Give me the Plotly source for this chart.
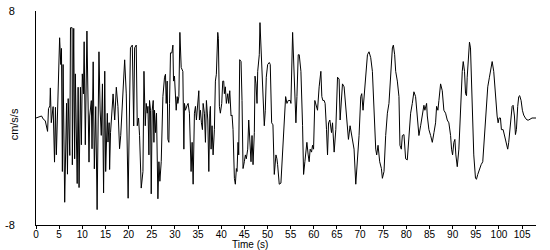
import plotly.graph_objects as go

# Acceleration record (time in s, acceleration in cm/s/s)
seg_early = [
    (0, 0), (1.2, 0.15), (1.6, -0.1), (2.0, -0.2), (2.5, -1.0), (2.7, 0.7), (3.0, 0.9), (3.1, 2.25),
    (3.3, -0.35), (3.7, 0.85), (4.0, -3.3), (4.2, 0.8), (4.4, -2.75), (4.8, 2.0), (5.1, 6.0),
    (5.35, 4.0), (5.5, 5.2), (5.7, -4.0), (5.85, 4.0), (6.2, -6.3), (6.6, 1.1), (6.8, -4.2),
    (6.95, 1.45), (7.3, -2.8), (7.45, 6.75), (7.8, 6.75), (7.85, -3.5), (8.15, 6.7), (8.35, -3.05),
    (8.5, 3.3), (8.9, -4.9), (9.1, 2.3), (9.3, -5.2), (9.6, 2.3), (9.8, -2.0), (10.0, 3.3),
    (10.25, 1.8), (10.4, 5.7), (10.65, -2.0), (11.0, 6.5), (11.25, 0.15), (11.45, -3.3),
    (11.6, 0.15), (11.95, 1.3), (12.1, -2.3), (12.35, 4.2), (12.6, -3.8), (12.9, 0.85),
    (13.2, -6.85), (13.4, 2.9), (13.6, 4.95), (13.85, 0.6), (14.1, -1.3), (14.35, 2.55),
    (14.6, -5.6), (14.85, 3.5), (15.05, -4.0), (15.4, 0.35), (15.55, -1.8), (15.8, -0.35),
    (15.9, -3.85), (16.1, -1.1), (16.65, 1.8), (17.0, -0.15), (17.35, 2.3), (17.7, 0.85),
    (18.05, -2.3), (18.3, -1.3), (18.8, 2.3), (19.15, 4.35), (19.5, 1.8), (19.9, -6.0),
    (20.4, 5.25), (20.8, 5.45), (21.1, -0.6), (21.3, 5.25), (21.65, 5.45),
]

seg_mid1 = [
    (21.87, -0.58), (22.15, 0), (22.37, -1.31), (22.73, -5.24), (23.1, -4.0), (23.32, 3.49),
    (23.6, -0.58), (23.81, 1.09), (24.03, 0.36), (24.18, 0.87), (24.39, -2.76), (24.52, 1.31),
    (24.74, 0.58), (24.89, -5.67), (25.1, 0.58), (25.32, 1.31), (25.47, -1.82), (25.6, 0.58),
    (25.82, -1.09), (26.03, 0.36), (26.33, -6.04), (26.55, -3.27), (26.76, -4.73), (27.05, -3.27),
    (27.41, 1.6), (27.76, 3.05), (27.97, 3.27), (28.12, 1.09), (28.34, 2.76), (28.49, -1.6),
    (28.7, -1.82), (28.84, 1.09), (29.05, 4.87), (29.35, 4.87), (29.57, 5.45), (29.7, 2.76),
    (29.91, 3.13), (30.28, 0.58), (30.49, 1.6), (30.64, 1.09), (30.86, 1.6), (31.08, 6.4),
    (31.36, 3.78), (31.72, 3.49), (31.94, -2.33), (32.07, 1.09), (32.28, 0.58), (32.65, 0.95),
    (32.86, 1.09), (33.14, 0.36), (33.36, -3.05), (33.5, -4.0), (33.72, -1.82), (33.94, -4.95),
    (34.22, 0.36), (34.44, 0.87), (34.65, -0.15), (34.95, 0.87), (35.17, 2.04), (35.3, -0.15),
    (35.52, 0.58), (35.73, -0.36), (35.95, -0.87), (36.1, 1.09), (36.38, 0.36), (36.6, -1.82),
    (36.81, 1.31), (37.11, -0.15), (37.33, -4.0), (37.54, 0.36), (37.67, 0.87), (37.82, -2.33),
    (38.03, -0.58), (38.25, -2.76), (38.53, -0.87), (38.75, 2.76), (38.96, 3.27), (39.26, 6.4),
    (39.39, 5.96), (39.61, 0.87), (39.82, 0.36), (40.12, 1.09), (40.34, 2.76), (40.55, 2.76),
    (40.69, 1.82), (40.9, 2.33), (41.12, 1.09), (41.42, 1.82), (41.63, 1.09), (41.85, 2.04),
    (42.13, 0.15), (42.35, 0.22), (42.56, -0.87), (42.85, -4.51), (43.06, -4.95), (43.28, -3.78),
    (43.42, -4.0), (43.64, -1.82), (43.79, -2.76), (44.0, 4.36), (44.29, 4.22), (44.5, 1.31),
    (44.72, -3.78), (45.0, -3.27), (45.22, -2.76), (45.43, -3.05), (45.73, -2.33), (45.95, -0.15),
    (46.16, -1.31), (46.44, -3.27), (46.66, -1.31), (46.88, -3.49), (47.16, -1.09), (47.31, 3.13),
    (47.52, 2.55), (47.74, 1.09), (47.89, 3.49), (48.23, 4.73), (48.38, 7.13), (48.6, 5.24),
    (48.81, 4.0), (49.18, -0.36), (49.31, -0.58), (49.53, 0.58), (49.74, 3.05), (50.04, 4.0),
    (50.39, 4.15),
]

seg_mid2 = [
    (50.6, 4.0), (50.9, -0.36), (51.18, -0.51), (51.47, -4.22), (51.83, -2.76), (52.04, -3.05),
    (52.19, -3.49), (52.54, -4.95), (52.9, -4.87), (53.27, -2.55), (53.62, -0.58), (53.92, 1.6),
    (54.2, 1.09), (54.49, 1.31), (54.92, 1.31), (55.06, 1.09), (55.43, 6.4), (55.78, 3.49),
    (55.99, 0.58), (56.14, -0.36), (56.36, 1.6), (56.64, 4.73), (56.86, 4.73), (57.22, 3.49),
    (57.58, -0.58), (57.8, -4.22), (58.08, -3.27), (58.29, -2.33), (58.51, -1.82), (58.79, -2.76),
    (59.0, -3.27), (59.22, -2.33), (59.52, -2.55), (59.73, -2.04), (59.95, -2.33), (60.23, 1.31),
    (60.45, 1.09), (60.81, 0.58), (61.16, 2.33), (61.53, 3.49), (61.74, 1.6), (61.96, 1.31),
    (62.24, 1.31), (62.45, 1.09), (62.75, -0.87), (62.97, -2.76), (63.19, -0.36), (63.47, -0.15),
    (63.83, -1.09), (64.05, -0.36), (64.4, -2.55), (64.76, -0.87), (65.13, 3.05), (65.47, 2.91),
    (65.69, -0.15), (65.84, 0.58), (66.2, 2.55), (66.55, 2.33), (66.91, 0.87), (67.28, -1.09),
    (67.49, -1.6), (67.84, -0.58), (68.14, -1.31), (68.36, -1.6), (68.7, -2.33), (69.07, -4.95),
    (69.43, -3.27), (69.78, -1.31), (70.15, 1.6), (70.36, 1.82), (70.64, 0.58), (71.0, 2.33),
    (71.59, 4.73), (71.93, 4.95), (72.3, 4.51), (72.66, 3.49), (73.01, 0.15), (73.38, -2.33),
    (73.59, -2.76), (73.88, -2.04), (74.24, -3.27), (74.61, -3.78), (74.82, -4.51), (75.17, -4.0),
    (75.53, -1.31), (75.9, 0.36), (76.24, 1.09), (76.61, 3.49), (76.98, 5.24), (77.19, 5.45),
    (77.47, 4.73), (77.69, 3.49), (78.05, 2.76), (78.4, 1.6),
]

seg_late = [
    (78.61, -2.04), (78.91, -2.33), (79.13, -1.31), (79.48, -1.24), (79.84, -3.05), (80.2, -3.13),
    (80.55, -1.09), (80.92, 0.36), (81.28, 1.09), (81.63, 1.96), (81.99, 1.6), (82.36, 0.15),
    (82.71, -1.31), (83.08, -0.58), (83.44, 0.36), (83.79, 0.95), (84.0, 0.58), (84.37, 1.09),
    (84.52, 0.15), (84.87, -0.87), (85.24, -1.31), (85.6, -1.82), (85.96, -1.09), (86.31, -0.36),
    (86.53, 0.87), (86.81, 0.58), (87.03, 1.31), (87.39, 2.55), (87.75, 2.04), (88.1, 0.58),
    (88.47, 0.36), (88.83, -0.15), (89.18, -0.36), (89.55, -1.31), (89.76, -2.33), (89.98, -2.76),
    (90.26, -1.82), (90.48, -1.6), (90.69, -2.76), (90.99, -3.64), (91.34, -2.33), (91.7, 1.09),
    (92.07, 3.49), (92.28, 4.22), (92.56, 3.49), (92.78, 1.82), (92.99, 1.67), (93.14, 3.05),
    (93.36, 4.73), (93.63, 5.67), (93.85, 5.24), (94.21, 1.6), (94.56, -2.76), (94.93, -4.51),
    (95.14, -4.58), (95.42, -4.22), (95.78, -3.78), (96.15, -3.49), (96.5, -3.27), (96.87, -1.31),
    (97.23, 0.36), (97.58, 2.33), (97.94, 3.05), (98.31, 3.85), (98.53, 4.22), (98.87, 3.49),
    (99.24, 1.6), (99.6, 0.15), (99.82, -0.36), (100.03, 0), (100.32, 0), (100.53, -0.87),
    (100.9, -0.87), (101.18, -1.31), (101.55, -2.04), (101.89, -2.33), (102.11, -1.82),
    (102.47, -0.58), (102.84, 0.87), (103.05, 0.95), (103.34, 0.15), (103.56, -1.24),
    (103.77, -0.87), (104.05, 0.87), (104.27, 1.6), (104.48, 1.67), (104.78, 1.31), (105.06, 0.58),
    (105.34, 0.22), (105.7, 0), (106.07, -0.15), (106.42, -0.15), (106.78, -0.07), (107.14, 0),
    (108.0, 0),
]

x_ticks = list(range(0, 110, 5))
y_ticks = [-8, 8]
y_ticktext = ["-8", "8"]

record = seg_early + seg_mid1 + seg_mid2 + seg_late
time_s = [p[0] for p in record]
accel = [p[1] for p in record]

FONT = "Liberation Sans, Arial, sans-serif"
TXT = dict(family=FONT, size=11, color="black")
TXT_SMALL = dict(family=FONT, size=10, color="black")

fig = go.Figure()
fig.add_trace(go.Scatter(
    x=time_s, y=accel, mode="lines",
    line=dict(color="black", width=1),
    hoverinfo="skip", showlegend=False,
))

fig.update_layout(
    width=550, height=250,
    margin=dict(l=35, r=14, t=5, b=25),
    paper_bgcolor="white", plot_bgcolor="white",
    font=TXT,
    xaxis=dict(
        range=[0, 108], tickmode="array", tickvals=x_ticks,
        showline=True, linecolor="black", linewidth=1,
        ticks="outside", ticklen=3, tickcolor="black", tickwidth=1,
        showgrid=False, zeroline=False, ticklabeloverflow="allow",
        ticklabelstandoff=-3,
        tickfont=TXT_SMALL,
    ),
    yaxis=dict(
        range=[-8, 8], tickmode="array", tickvals=y_ticks, ticktext=y_ticktext,
        showline=True, linecolor="black", linewidth=1,
        ticks="", showgrid=False, zeroline=False,
        ticklabelstandoff=18, ticklabeloverflow="allow",
        tickfont=TXT,
    ),
    annotations=[
        dict(
            text="Time (s)", xref="paper", yref="paper",
            x=(249 - 35) / 501, y=-20 / 220, xanchor="center", yanchor="middle",
            showarrow=False, font=TXT_SMALL,
        ),
        dict(
            text="cm/s/s", xref="paper", yref="paper", textangle=-90,
            x=-22.5 / 501, y=(225 - 122) / 220, xanchor="center", yanchor="middle",
            showarrow=False, font=TXT,
        ),
    ],
)

fig.write_html("out.html")
